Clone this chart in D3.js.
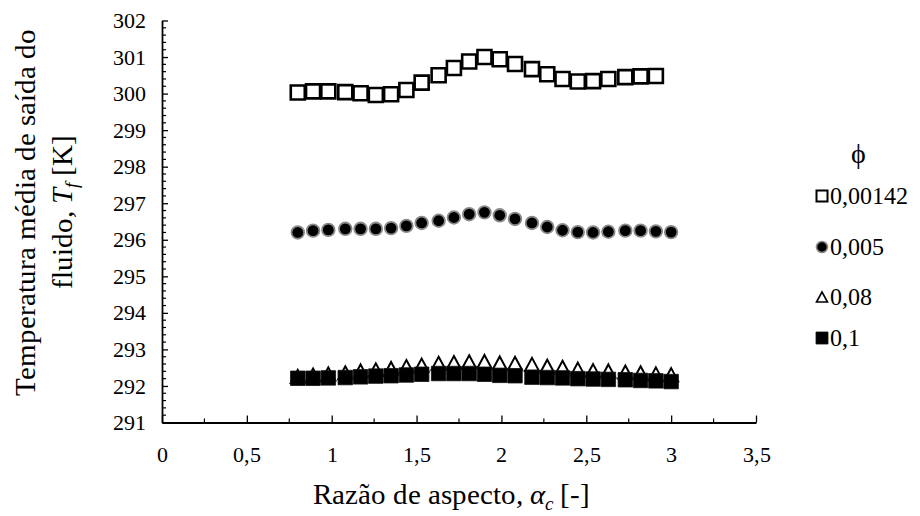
<!DOCTYPE html>
<html>
<head>
<meta charset="utf-8">
<script src="https://cdn.jsdelivr.net/npm/d3@7"></script>
<style>
  @font-face {
    font-family: "ChartSerif";
    src: local("Liberation Serif"), local("LiberationSerif"), local("LiberationSerif-Regular"),
         local("Times New Roman"), local("DejaVu Serif"), local("DejaVuSerif");
    font-style: normal;
  }
  @font-face {
    font-family: "ChartSerif";
    src: local("Liberation Serif Italic"), local("LiberationSerif-Italic"),
         local("DejaVu Serif Italic"), local("DejaVuSerif-Italic");
    font-style: italic;
  }
  html, body { margin: 0; padding: 0; background: #fff; }
  svg { display: block; }
  svg text { font-family: "ChartSerif", "Liberation Serif", "DejaVu Serif", serif; }
</style>
</head>
<body>
<svg id="chart" width="920" height="516"></svg>
<script>
// Aspect ratio values (x) shared by all series
const aspectRatio = [0.80, 0.89, 0.98, 1.08, 1.17, 1.26, 1.35, 1.44, 1.53, 1.63, 1.72, 1.81, 1.90,
                     1.99, 2.08, 2.18, 2.27, 2.36, 2.45, 2.54, 2.63, 2.73, 2.82, 2.91, 3.00];

// Mean outlet fluid temperature [K] for each volume fraction
const tPhi000142 = [300.03, 300.06, 300.06, 300.04, 300.01, 299.96, 299.98, 300.10, 300.30, 300.50,
                    300.70, 300.88, 301.00, 300.94, 300.81, 300.67, 300.53, 300.40, 300.33, 300.34,
                    300.40, 300.45, 300.47, 300.48];
const tPhi0005   = [296.20, 296.25, 296.27, 296.30, 296.30, 296.30, 296.32, 296.38, 296.46, 296.52,
                    296.61, 296.70, 296.75, 296.67, 296.57, 296.46, 296.35, 296.26, 296.21, 296.20,
                    296.22, 296.25, 296.25, 296.23, 296.21];
const tPhi008    = [292.26, 292.30, 292.33, 292.36, 292.41, 292.44, 292.48, 292.53, 292.57, 292.62,
                    292.64, 292.66, 292.67, 292.63, 292.62, 292.59, 292.54, 292.51, 292.46, 292.42,
                    292.41, 292.38, 292.36, 292.33, 292.31];
const tPhi01     = [292.21, 292.21, 292.22, 292.23, 292.25, 292.27, 292.28, 292.30, 292.32, 292.34,
                    292.34, 292.34, 292.32, 292.29, 292.28, 292.24, 292.23, 292.22, 292.20, 292.19,
                    292.18, 292.17, 292.15, 292.14, 292.12];

const seriesNames = ["0,00142", "0,005", "0,08", "0,1"];
const xTicks = [0, 0.5, 1, 1.5, 2, 2.5, 3, 3.5];
const yTicks = [291, 292, 293, 294, 295, 296, 297, 298, 299, 300, 301, 302];

const FONT = '"ChartSerif", "Liberation Serif", "DejaVu Serif", serif';
const svg = d3.select("#chart");
const fmt = v => String(v).replace(".", ",");

const x = d3.scaleLinear().domain([0, 3.5]).range([162, 756]);
const y = d3.scaleLinear().domain([291, 302]).range([422.5, 20.5]);

// ---- axes ----
const axisG = svg.append("g");

// minor ticks
const xMinor = d3.range(0.25, 3.5, 0.5);
const yMinor = d3.range(291, 302.001, 0.2).filter(v => Math.abs(v - Math.round(v)) > 1e-6);

const yAxis = d3.axisLeft(y).tickValues(yTicks).tickFormat(d => d)
  .tickSizeInner(-6).tickSizeOuter(0).tickPadding(16);
const yAxisG = axisG.append("g").attr("transform", `translate(${x(0)},0)`).call(yAxis)
  .attr("font-family", FONT);
yAxisG.selectAll("text").attr("font-size", 22).attr("fill", "#000").style("font-family", FONT);
yAxisG.selectAll("line").attr("stroke", "#000").attr("stroke-width", 1.3);
yAxisG.select(".domain").attr("stroke", "#000").attr("stroke-width", 1.8);
yAxisG.selectAll(".minor").data(yMinor).enter().append("line")
  .attr("x1", 0).attr("x2", 4).attr("y1", d => y(d)).attr("y2", d => y(d))
  .attr("stroke", "#000").attr("stroke-width", 1.2);

const xAxis = d3.axisBottom(x).tickValues(xTicks).tickFormat(fmt)
  .tickSizeInner(-7).tickSizeOuter(0).tickPadding(24);
const xAxisG = axisG.append("g").attr("transform", `translate(0,${y(291)})`).call(xAxis)
  .attr("font-family", FONT);
xAxisG.selectAll("text").attr("font-size", 22).attr("fill", "#000").style("font-family", FONT);
xAxisG.selectAll("line").attr("stroke", "#000").attr("stroke-width", 1.3);
xAxisG.select(".domain").attr("stroke", "#000").attr("stroke-width", 1.8);
xAxisG.selectAll(".minor").data(xMinor).enter().append("line")
  .attr("x1", d => x(d)).attr("x2", d => x(d)).attr("y1", 0).attr("y2", -4)
  .attr("stroke", "#000").attr("stroke-width", 1.2);

// ---- axis titles ----
const xTitle = svg.append("text")
  .attr("x", 451).attr("y", 504).attr("text-anchor", "middle")
  .attr("font-size", 29).attr("fill", "#000").style("font-family", FONT);
xTitle.append("tspan").text("Razão de aspecto, ");
xTitle.append("tspan").attr("font-style", "italic").text("α");
xTitle.append("tspan").attr("font-style", "italic").attr("font-size", 19).attr("dy", 6).text("c");
xTitle.append("tspan").attr("dy", -6).text(" [-]");

const yTitle = svg.append("g").attr("transform", "translate(0,212) rotate(-90)");
yTitle.append("text").attr("x", 0).attr("y", 35).attr("text-anchor", "middle")
  .attr("font-size", 29).attr("fill", "#000").style("font-family", FONT)
  .text("Temperatura média de saída do");
const yt2 = yTitle.append("text").attr("x", 0).attr("y", 72).attr("text-anchor", "middle")
  .attr("font-size", 29).attr("fill", "#000").style("font-family", FONT);
yt2.append("tspan").text("fluido, ");
yt2.append("tspan").attr("font-style", "italic").text("T");
yt2.append("tspan").attr("font-style", "italic").attr("font-size", 19).attr("dy", 6).text("f");
yt2.append("tspan").attr("dy", -6).text(" [K]");

// ---- markers ----
const sq = s => `M${-s / 2},${-s / 2}H${s / 2}V${s / 2}H${-s / 2}Z`;
const tri = (w, h) => `M0,${-h / 2}L${w / 2},${h / 2}L${-w / 2},${h / 2}Z`;

const series = [
  { name: seriesNames[0], values: tPhi000142, path: sq(14), fill: "#fff", stroke: "#000", sw: 2.6 },
  { name: seriesNames[1], values: tPhi0005, circle: 6.3, fill: "#000", stroke: "#8a8a8a", sw: 1.8 },
  { name: seriesNames[2], values: tPhi008, path: tri(14, 13), fill: "#fff", stroke: "#000", sw: 2 },
  { name: seriesNames[3], values: tPhi01, path: sq(14.5), fill: "#000", stroke: "#111", sw: 0.8 }
];

const plot = svg.append("g");
series.forEach(s => {
  const pts = s.values.map((v, i) => ({ x: aspectRatio[i], y: v }));
  const g = plot.append("g");
  if (s.circle) {
    g.selectAll("circle").data(pts).enter().append("circle")
      .attr("cx", d => x(d.x)).attr("cy", d => y(d.y)).attr("r", s.circle)
      .attr("fill", s.fill).attr("stroke", s.stroke).attr("stroke-width", s.sw);
  } else {
    g.selectAll("path").data(pts).enter().append("path")
      .attr("transform", d => `translate(${x(d.x)},${y(d.y)})`)
      .attr("d", s.path).attr("fill", s.fill).attr("stroke", s.stroke)
      .attr("stroke-width", s.sw).attr("stroke-linejoin", "miter");
  }
});

// ---- legend ----
const legend = svg.append("g");
legend.append("text").attr("x", 858).attr("y", 163).attr("text-anchor", "middle")
  .attr("font-size", 28).attr("fill", "#000").style("font-family", FONT).text("ϕ");
const legendY = [196, 247, 297, 338];
const legendMarks = [
  { path: sq(11), fill: "#fff", stroke: "#000", sw: 2 },
  { circle: 5.5, fill: "#000", stroke: "#8a8a8a", sw: 1.6 },
  { path: tri(11, 10), fill: "#fff", stroke: "#000", sw: 1.6 },
  { path: sq(12), fill: "#000", stroke: "#111", sw: 0.8 }
];
seriesNames.forEach((name, i) => {
  const m = legendMarks[i];
  const cy = legendY[i];
  if (m.circle) {
    legend.append("circle").attr("cx", 822).attr("cy", cy).attr("r", m.circle)
      .attr("fill", m.fill).attr("stroke", m.stroke).attr("stroke-width", m.sw);
  } else {
    legend.append("path").attr("transform", `translate(822,${cy})`).attr("d", m.path)
      .attr("fill", m.fill).attr("stroke", m.stroke).attr("stroke-width", m.sw);
  }
  legend.append("text").attr("x", 830).attr("y", cy + 8).attr("font-size", 24)
    .attr("fill", "#000").style("font-family", FONT).text(name);
});
</script>
</body>
</html>
